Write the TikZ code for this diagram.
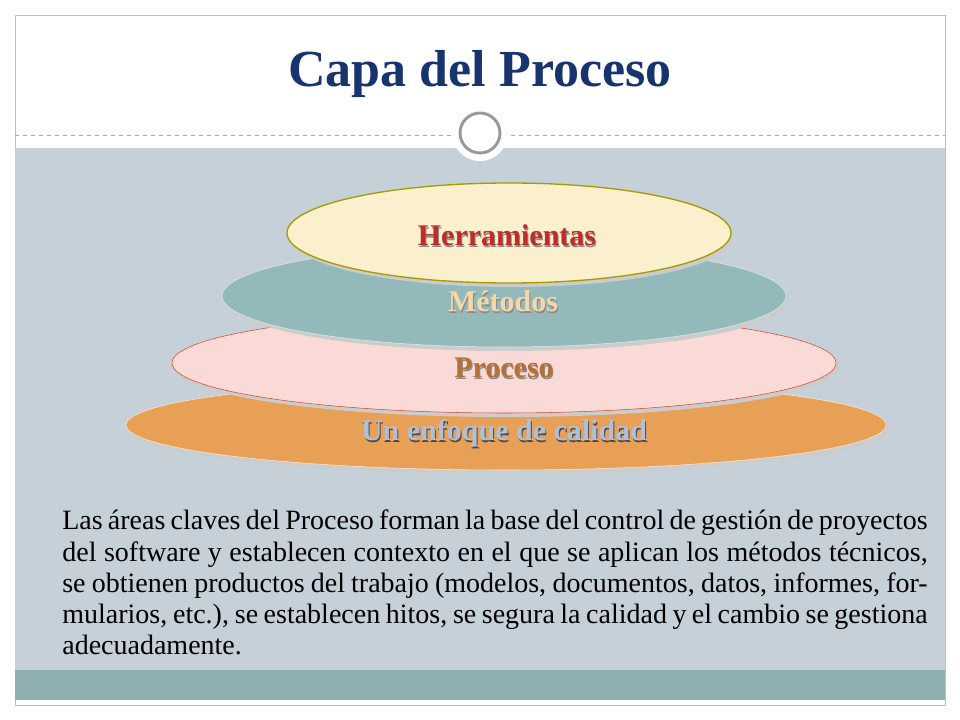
\documentclass[tikz,border=0pt]{standalone}
\usepackage{fontspec}
\setmainfont{Liberation Serif}
\usetikzlibrary{positioning}
\definecolor{fondo}{RGB}{197, 208, 216}
\definecolor{banda}{RGB}{143, 175, 176}
\definecolor{titulo}{RGB}{24, 52, 110}
\definecolor{crema}{RGB}{250, 240, 205}
\definecolor{verdeazul}{RGB}{148, 185, 186}
\definecolor{rosa}{RGB}{250, 218, 214}
\definecolor{naranja}{RGB}{231, 160, 85}
\tikzset{
    lbl/.style={font=\fontsize{22.5}{26}\selectfont\bfseries},
    sombra/.style={lbl, text=black!45},
}
\usetikzlibrary{shapes.geometric}
\begin{document}
\begin{tikzpicture}[x=0.75pt, y=-0.75pt]
    \useasboundingbox (0,0) rectangle (960,720);
    \fill[white] (0,0) rectangle (960,720);
    \draw[black!25] (15,15) rectangle (945,705);
    \fill[fondo] (15,148) rectangle (945,670);
    \fill[banda] (15,670) rectangle (945,700);
    \draw[black!35, dashed] (15,135) -- (945,135);
    \node[circle, fill=white, minimum size=42pt, inner sep=0pt] (anillo) at (480,133) {};
    \node[circle, draw=black!40, line width=2.2pt, fill=white, minimum size=30pt, inner sep=0pt] (aro) at (480,133) {};
    \node[font=\fontsize{39}{43}\selectfont\bfseries, text=titulo] (tit) at (480,74) {Capa del Proceso};
    % capas, de abajo hacia arriba
    \fill[black!20] (509,429) ellipse [x radius=380, y radius=45];
    \fill[naranja, draw=white!80!naranja] (506,425) ellipse [x radius=380, y radius=45];
    \fill[black!20] (507,367) ellipse [x radius=332, y radius=50];
    \fill[rosa, draw=red!45!brown] (504,363) ellipse [x radius=332, y radius=50];
    \fill[black!20] (507,300) ellipse [x radius=282, y radius=51];
    \fill[verdeazul, draw=white!70!verdeazul] (504,296) ellipse [x radius=282, y radius=51];
    \fill[black!20] (512,237) ellipse [x radius=222, y radius=50];
    \fill[crema, draw=olive!80!yellow, line width=1pt] (509,233) ellipse [x radius=222, y radius=50];
    % rotulos
    \node[sombra] at (508,237) {Herramientas};
    \node[lbl, text={rgb,255:red,192;green,45;blue,40}] (herr) at (507,235) {Herramientas};
    \node[sombra] at (504,303) {Métodos};
    \node[lbl, text={rgb,255:red,245;green,215;blue,168}] (met) at (503,301) {Métodos};
    \node[sombra] at (505,370) {Proceso};
    \node[lbl, text={rgb,255:red,180;green,112;blue,55}] (proc) at (504,368) {Proceso};
    \node[sombra, text=black!70] at (505,435) {Un enfoque de calidad};
    \node[lbl, text={rgb,255:red,178;green,190;blue,210}] (calidad) at (504,433) {Un enfoque de calidad};
    \node[anchor=north, text width=649pt, align=justify,
        font=\fontsize{21}{23.3}\selectfont, inner sep=0pt] (texto) at (495,510)
        {\hyphenpenalty=10000\relax Las áreas claves del Proceso forman la base del control de gestión de proyectos del software y establecen contexto en el que se aplican los métodos técnicos, se obtienen productos del trabajo (modelos, documentos, datos, informes, formularios, etc.), se establecen hitos, se segura la calidad y el cambio se gestiona adecuadamente.};
\end{tikzpicture}
\end{document}
